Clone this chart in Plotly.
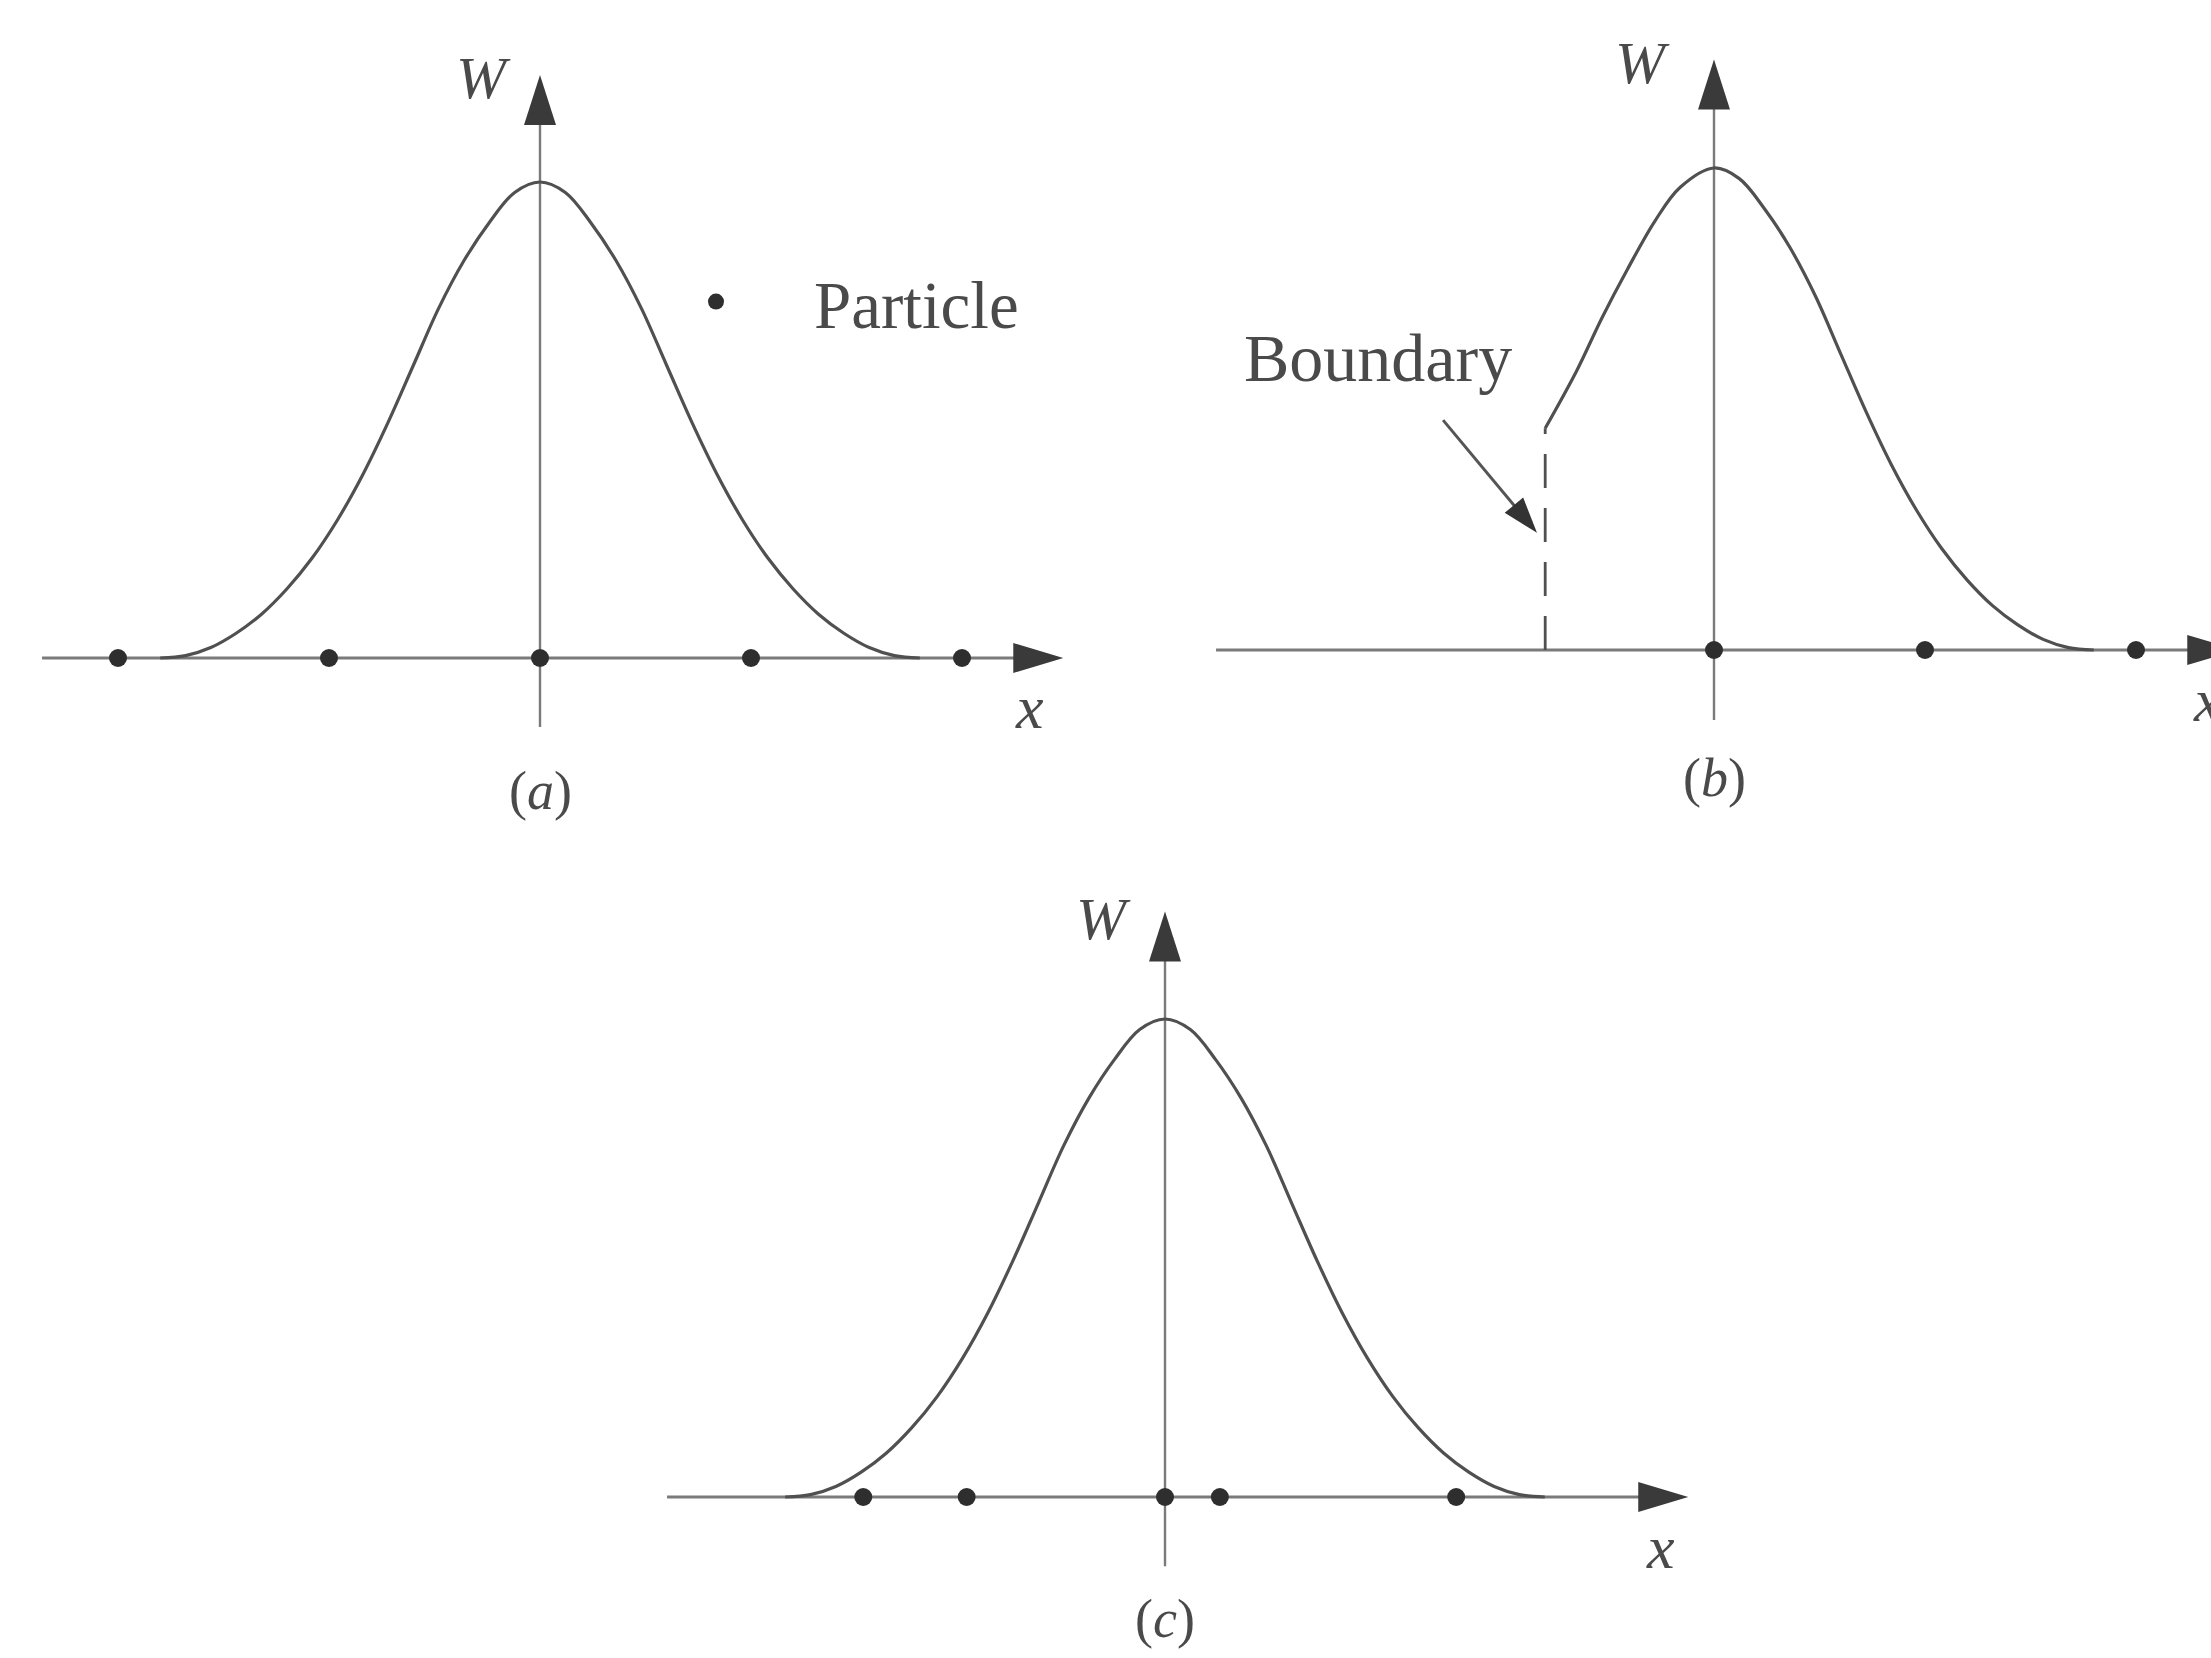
import math
import plotly.graph_objects as go

PAGE_W, PAGE_H = 2211, 1658
FONT = "Liberation Serif"
INK = "#4a4a4a"
AXIS_COLOR = "#7a7a7a"
CURVE_COLOR = "#505050"
DOT_COLOR = "#2e2e2e"

# Smoothing kernel W(x): x in units of the particle spacing, W normalised to its peak
KERNEL_X = [0.00, 0.12, 0.24, 0.36, 0.48, 0.60, 0.72, 0.84, 0.96, 1.08, 1.20, 1.32, 1.44, 1.56, 1.68, 1.80]
KERNEL_W = [1.000, 0.978, 0.915, 0.835, 0.735, 0.615, 0.495, 0.385, 0.290, 0.210, 0.145, 0.092, 0.052, 0.022, 0.005, 0.0]

# Kernel truncated by a boundary (left branch only, right branch is the full kernel)
BOUNDARY_X = -0.80
TRUNC_LEFT_X = [-0.80, -0.65, -0.53, -0.41, -0.28, -0.16]
TRUNC_LEFT_W = [0.46, 0.58, 0.69, 0.79, 0.89, 0.96]

# Particle positions for each panel
PARTICLES_A = [-2.0, -1.0, 0.0, 1.0, 2.0]
PARTICLES_B = [0.0, 1.0, 2.0]
PARTICLES_C = [-1.43, -0.94, 0.0, 0.26, 1.38]

# Extents of the drawn x and W axes (data units)
X_AXIS_SPAN = (-2.36, 2.48)
W_AXIS_SPAN = (-0.145, 1.225)

PANEL_LABELS = ["(<i>a</i>)", "(<i>b</i>)", "(<i>c</i>)"]

# Panel geometry in page pixels: origin, pixels per unit, and the box the axes occupy
PANELS = {
    "a": dict(cx=540, cy=658, sx=211, sy=476, box=(0, 20, 1100, 850), xa="x", ya="y",
              wlab=(-0.27, 1.218), xlab=(2.32, -0.103), plab=(0.0, -0.28)),
    "b": dict(cx=1714, cy=650, sx=211, sy=482, box=(1140, 20, 2211, 850), xa="x2", ya="y2",
              wlab=(-0.34, 1.218), xlab=(2.34, -0.104), plab=(0.0, -0.265)),
    "c": dict(cx=1165, cy=1497, sx=211, sy=478, box=(560, 870, 1760, 1658), xa="x3", ya="y3",
              wlab=(-0.29, 1.209), xlab=(2.35, -0.105), plab=(0.0, -0.255)),
}

fig = go.Figure()

full_x = [-v for v in reversed(KERNEL_X[1:])] + KERNEL_X
full_w = list(reversed(KERNEL_W[1:])) + KERNEL_W
trunc_x = TRUNC_LEFT_X + KERNEL_X
trunc_w = TRUNC_LEFT_W + KERNEL_W

curves = {"a": (full_x, full_w), "b": (trunc_x, trunc_w), "c": (full_x, full_w)}
particles = {"a": PARTICLES_A, "b": PARTICLES_B, "c": PARTICLES_C}

shapes = []
annotations = []
layout_axes = {}

for i, (key, p) in enumerate(PANELS.items()):
    left, top, right, bottom = p["box"]
    xname = "xaxis" if p["xa"] == "x" else "xaxis" + p["xa"][1:]
    yname = "yaxis" if p["ya"] == "y" else "yaxis" + p["ya"][1:]
    layout_axes[xname] = dict(
        domain=[left / PAGE_W, right / PAGE_W],
        range=[(left - p["cx"]) / p["sx"], (right - p["cx"]) / p["sx"]],
        visible=False, anchor=p["ya"], fixedrange=True,
    )
    layout_axes[yname] = dict(
        domain=[1 - bottom / PAGE_H, 1 - top / PAGE_H],
        range=[(p["cy"] - bottom) / p["sy"], (p["cy"] - top) / p["sy"]],
        visible=False, anchor=p["xa"], fixedrange=True,
    )

    ref = dict(xref=p["xa"], yref=p["ya"])
    head_len_x = 50 / p["sx"]
    head_len_w = 50 / p["sy"]

    # horizontal x axis with arrow head
    shapes.append(dict(type="line", x0=X_AXIS_SPAN[0], x1=X_AXIS_SPAN[1] - head_len_x * 0.6,
                       y0=0, y1=0, line=dict(color=AXIS_COLOR, width=3.2), layer="below", **ref))
    shapes.append(dict(type="path", xsizemode="pixel", ysizemode="pixel",
                       xanchor=X_AXIS_SPAN[1], yanchor=0, path="M0,0 L-50,15 L-50,-15 Z",
                       fillcolor="#3a3a3a", line=dict(width=0), **ref))
    # vertical W axis with arrow head
    shapes.append(dict(type="line", x0=0, x1=0, y0=W_AXIS_SPAN[0],
                       y1=W_AXIS_SPAN[1] - head_len_w * 0.6,
                       line=dict(color=AXIS_COLOR, width=2.4), layer="below", **ref))
    shapes.append(dict(type="path", xsizemode="pixel", ysizemode="pixel",
                       xanchor=0, yanchor=W_AXIS_SPAN[1], path="M0,0 L-16,-50 L16,-50 Z",
                       fillcolor="#3a3a3a", line=dict(width=0), **ref))

    cx_, cw_ = curves[key]
    fig.add_trace(go.Scatter(x=cx_, y=cw_, mode="lines", xaxis=p["xa"], yaxis=p["ya"],
                             line=dict(color=CURVE_COLOR, width=3.2, shape="spline", smoothing=1.0),
                             showlegend=False, hoverinfo="skip"))
    fig.add_trace(go.Scatter(x=particles[key], y=[0] * len(particles[key]), mode="markers",
                             xaxis=p["xa"], yaxis=p["ya"], name="Particle",
                             marker=dict(color=DOT_COLOR, size=18),
                             showlegend=(key == "a"), hoverinfo="skip"))

    annotations.append(dict(text="<i>W</i>", x=p["wlab"][0], y=p["wlab"][1], showarrow=False,
                            font=dict(family=FONT, size=60, color=INK), **ref))
    annotations.append(dict(text="<i>x</i>", x=p["xlab"][0], y=p["xlab"][1], showarrow=False,
                            font=dict(family=FONT, size=62, color=INK), **ref))
    annotations.append(dict(text=PANEL_LABELS[i], x=p["plab"][0], y=p["plab"][1], showarrow=False,
                            font=dict(family=FONT, size=54, color=INK), **ref))

# Boundary in panel (b): dashed wall, label and pointer arrow
pb = PANELS["b"]
refb = dict(xref=pb["xa"], yref=pb["ya"])
shapes.append(dict(type="line", x0=BOUNDARY_X, x1=BOUNDARY_X, y0=0, y1=TRUNC_LEFT_W[0],
                   line=dict(color=CURVE_COLOR, width=2.8, dash="34px,20px"), **refb))

arrow_from = (-1.284, 0.477)
arrow_to = (-0.839, 0.243)
dxp = (arrow_to[0] - arrow_from[0]) * pb["sx"]
dyp = (arrow_to[1] - arrow_from[1]) * pb["sy"]
norm = math.hypot(dxp, dyp)
ux, uy = dxp / norm, dyp / norm
head_len, head_half = 36, 12
bx, by = -head_len * ux, -head_len * uy
nx, ny = -uy, ux
shapes.append(dict(type="line", x0=arrow_from[0], y0=arrow_from[1],
                   x1=arrow_to[0] + bx / pb["sx"] * 0.8, y1=arrow_to[1] + by / pb["sy"] * 0.8,
                   line=dict(color="#555555", width=3), **refb))
shapes.append(dict(type="path", xsizemode="pixel", ysizemode="pixel",
                   xanchor=arrow_to[0], yanchor=arrow_to[1],
                   path=(f"M0,0 L{bx + head_half * nx:.1f},{by + head_half * ny:.1f} "
                         f"L{bx - head_half * nx:.1f},{by - head_half * ny:.1f} Z"),
                   fillcolor="#333333", line=dict(width=0), **refb))
annotations.append(dict(text="Boundary", x=-1.592, y=0.606, showarrow=False,
                        font=dict(family=FONT, size=68, color=INK), **refb))

fig.update_layout(
    width=PAGE_W, height=PAGE_H,
    margin=dict(l=0, r=0, t=0, b=0),
    paper_bgcolor="white", plot_bgcolor="rgba(0,0,0,0)",
    shapes=shapes, annotations=annotations,
    showlegend=True,
    legend=dict(x=618 / PAGE_W, y=1 - 302 / PAGE_H, xanchor="left", yanchor="middle",
                itemwidth=186, bgcolor="rgba(0,0,0,0)", borderwidth=0,
                font=dict(family=FONT, size=67, color=INK)),
    **layout_axes,
)

fig.write_html("out.html")
